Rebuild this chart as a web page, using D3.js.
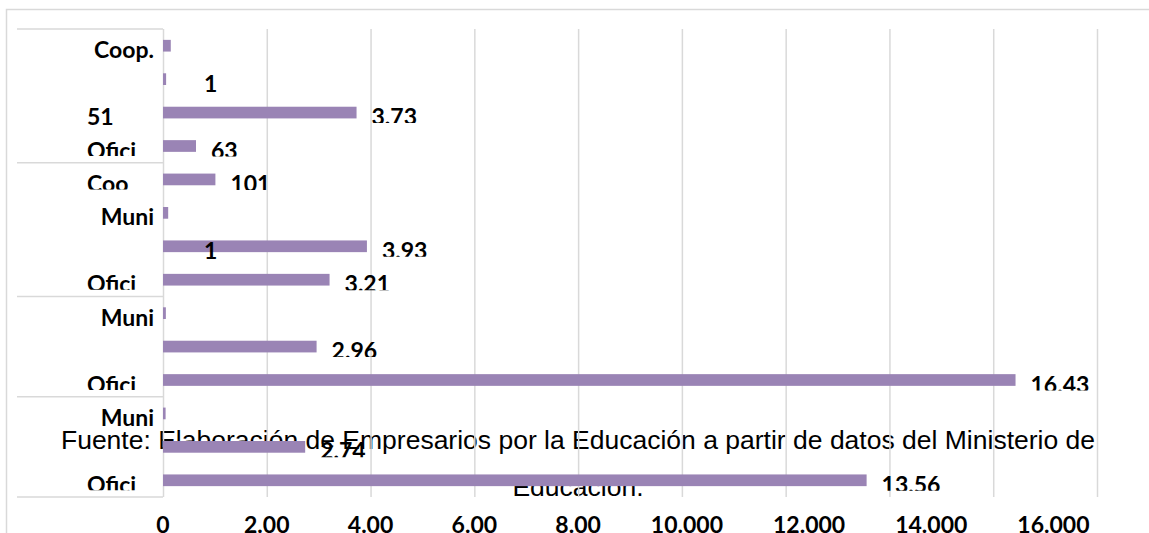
<!DOCTYPE html>
<html>
<head>
<meta charset="utf-8">
<script src="https://cdn.jsdelivr.net/npm/d3@7"></script>
<style>
  body { margin: 0; background: #fff; }
  .grid line { stroke: #d9d9d9; stroke-width: 1.5; }
  .lbl { font-family: Lato, sans-serif; font-weight: 700; font-size: 23px; fill: #000; }
  .note { font-family: "Liberation Sans", Arial, sans-serif; font-size: 26.5px; fill: #000; }
</style>
</head>
<body>
<script>
// bar rows from top to bottom (four groups of rows)
var barValues = [150, 60, 3730, 636, 1010, 100, 3930, 3210, 55, 2960, 16430, 50, 2740, 13560];
// data labels as they show (cut off in the original)
var valueLabels = ["", "", "3.73", "63", "101", "", "3.93", "3.21", "", "2.96", "16.43", "", "2.74", "13.56"];
var groupSizes = [4, 4, 3, 3];

// category labels, right aligned
var catLabels = [
  {text: "Coop.", row: 0},
  {text: "Muni", row: 5},
  {text: "Muni", row: 8},
  {text: "Muni", row: 11}
];
// wrapped labels that spill out of their box
var wrapLabels = [
  {text: "51", row: 2, cut: false},
  {text: "Ofici", row: 3, cut: true},
  {text: "Coo", row: 4, cut: true},
  {text: "Ofici", row: 7, cut: true},
  {text: "Ofici", row: 10, cut: true},
  {text: "Ofici", row: 13, cut: true}
];
var strayLabels = [
  {text: "1", row: 1},
  {text: "1", row: 6}
];

// gridlines run to 18000, labels only to 16.000
var tickValues = [0, 2000, 4000, 6000, 8000, 10000, 12000, 14000, 16000, 18000];
var tickLabels = ["0", "2.00", "4.00", "6.00", "8.00", "10.000", "12.000", "14.000", "16.000"];

var noteLines = ["Fuente: Elaboración de Empresarios por la Educación a partir de datos del Ministerio de",
                 "Educación."];

// sizes
var w = 1149;
var h = 533;
var plot = {left: 163, right: 1097, top: 29, bottom: 497};
var catLeft = 17;

var svg = d3.select("body")
            .append("svg")
            .attr("width", w)
            .attr("height", h);
var defs = svg.append("defs");

var xScale = d3.scaleLinear()
               .domain([0, 18000])
               .range([plot.left, plot.right]);
var yScale = d3.scaleBand()
               .domain(d3.range(barValues.length))
               .range([plot.top, plot.bottom]);
var barH = yScale.bandwidth() * 0.35;

function mid(r) {
  return yScale(r) + yScale.bandwidth() / 2;
}

// outer chart frame (runs off the page at right and bottom)
svg.append("rect")
   .attr("x", 6.5)
   .attr("y", 9.5)
   .attr("width", w)
   .attr("height", h)
   .attr("fill", "none")
   .attr("stroke", "#d9d9d9")
   .attr("stroke-width", 1.5);

// footnote sits under the grid and bars
svg.selectAll(".note")
   .data(noteLines)
   .enter()
   .append("text")
   .attr("class", "note")
   .attr("text-anchor", "middle")
   .attr("x", 578)
   .attr("y", function(d, i) { return 449 + i * 47; })
   .text(function(d) { return d; });

// vertical gridlines
svg.append("g")
   .attr("class", "grid")
   .attr("transform", "translate(0," + plot.bottom + ")")
   .call(d3.axisBottom(xScale)
           .tickValues(tickValues)
           .tickSize(-(plot.bottom - plot.top))
           .tickFormat(""))
   .call(function(g) { g.select(".domain").remove(); });

// group lines in the category column
var bounds = [0];
groupSizes.forEach(function(s) { bounds.push(bounds[bounds.length - 1] + s); });
svg.selectAll(".gline")
   .data(bounds)
   .enter()
   .append("line")
   .attr("x1", catLeft)
   .attr("x2", plot.left)
   .attr("y1", function(d) { return plot.top + d * yScale.step(); })
   .attr("y2", function(d) { return plot.top + d * yScale.step(); })
   .attr("stroke", "#d9d9d9")
   .attr("stroke-width", 1.5);

// bars
svg.selectAll(".bar")
   .data(barValues)
   .enter()
   .append("rect")
   .attr("class", "bar")
   .attr("x", xScale(0))
   .attr("y", function(d, i) { return mid(i) - barH / 2; })
   .attr("width", function(d) { return xScale(d) - xScale(0); })
   .attr("height", barH)
   .attr("fill", "#9a84b5");

// data labels, clipped at the bottom like the original
var vals = barValues.map(function(v, i) { return {v: v, t: valueLabels[i], r: i}; })
                    .filter(function(d) { return d.t; });
defs.selectAll(".vclip")
    .data(vals)
    .enter()
    .append("clipPath")
    .attr("id", function(d, i) { return "vc" + i; })
    .append("rect")
    .attr("x", function(d) { return xScale(d.v); })
    .attr("y", function(d) { return yScale(d.r); })
    .attr("width", 200)
    .attr("height", function(d) { return mid(d.r) + 10.5 - yScale(d.r); });
svg.selectAll(".val")
   .data(vals)
   .enter()
   .append("text")
   .attr("class", "lbl")
   .attr("x", function(d) { return xScale(d.v) + 15; })
   .attr("y", function(d) { return mid(d.r) + 12.5; })
   .attr("clip-path", function(d, i) { return "url(#vc" + i + ")"; })
   .text(function(d) { return d.t; });

// category labels
svg.selectAll(".cat")
   .data(catLabels)
   .enter()
   .append("text")
   .attr("class", "lbl")
   .attr("text-anchor", "end")
   .attr("x", plot.left - 9)
   .attr("y", function(d) { return mid(d.row) + 12.5; })
   .text(function(d) { return d.text; });

defs.selectAll(".wclip")
    .data(wrapLabels)
    .enter()
    .append("clipPath")
    .attr("id", function(d, i) { return "wc" + i; })
    .append("rect")
    .attr("x", catLeft)
    .attr("y", function(d) { return yScale(d.row) - 10; })
    .attr("width", plot.left - catLeft)
    .attr("height", function(d) { return mid(d.row) + (d.cut ? 10 : 30) - yScale(d.row) + 10; });
svg.selectAll(".wrap")
   .data(wrapLabels)
   .enter()
   .append("text")
   .attr("class", "lbl")
   .attr("x", plot.left - 76)
   .attr("y", function(d) { return mid(d.row) + 12.5; })
   .attr("clip-path", function(d, i) { return "url(#wc" + i + ")"; })
   .text(function(d) { return d.text; });

svg.selectAll(".stray")
   .data(strayLabels)
   .enter()
   .append("text")
   .attr("class", "lbl")
   .attr("x", plot.left + 41)
   .attr("y", function(d) { return mid(d.row) + 12.5; })
   .text(function(d) { return d.text; });

// x tick labels: pushed right when they would collide
var ticks = svg.selectAll(".tlbl")
               .data(tickLabels)
               .enter()
               .append("text")
               .attr("class", "lbl")
               .attr("text-anchor", "middle")
               .attr("y", plot.bottom + 36)
               .text(function(d) { return d; });
var prevRight = -Infinity;
ticks.each(function(d, i) {
  var tw = this.getComputedTextLength();
  var cx = Math.max(xScale(tickValues[i]), prevRight + 50 + tw / 2);
  d3.select(this).attr("x", cx);
  prevRight = cx + tw / 2;
});
</script>
</body>
</html>
